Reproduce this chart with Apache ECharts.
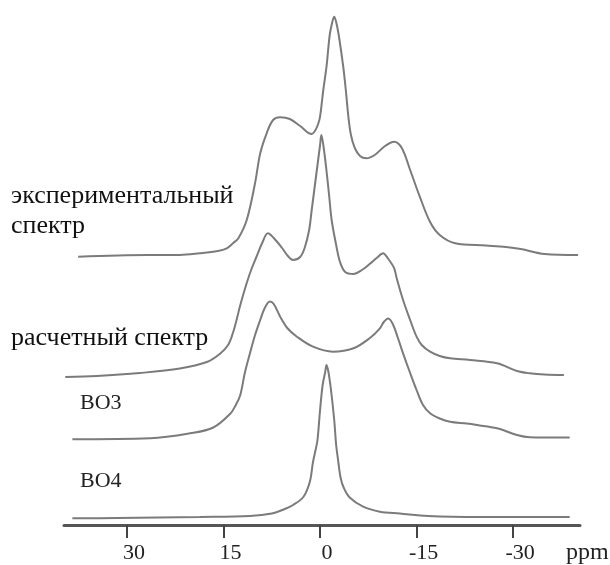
<!DOCTYPE html>
<html>
<head>
<meta charset="utf-8">
<script src="https://cdn.jsdelivr.net/npm/echarts@6/dist/echarts.min.js"></script>
<style>
html,body{margin:0;padding:0;background:#fff;}
#chart{width:610px;height:565px;}
</style>
</head>
<body>
<div id="chart"></div>
<script>
// x: chemical shift, ppm ; y: stacked intensity (arbitrary units, offsets included)
var tickValues = [30, 15, 0, -15, -30];
var axisName = 'ppm';
var labelExp = ['экспериментальный', 'спектр'];
var labelCalc = 'расчетный спектр';
var labelBO3 = 'BO3';
var labelBO4 = 'BO4';

var expPpm = [37.6, 26.8, 21.8, 18.7, 15.9, 14.5, 13.5, 12.7, 11.4, 10.1, 9.3, 8.3, 7.3, 6.2, 4.7, 3.1, 1.3, 0.8, 0.3, 0.0, -0.5, -1.0, -1.5, -1.9, -2.2, -2.5, -2.9, -3.6, -4.0, -4.4, -4.8, -5.4, -6.2, -7.2, -8.5, -10.1, -11.5, -12.7, -14.0, -15.5, -17.1, -18.6, -21.0, -25.8, -28.9, -31.2, -34.9, -40.1];
var expInt = [268.3, 270, 270, 271.7, 274, 276.7, 282, 286.7, 305, 342, 371.7, 391.7, 405, 407.7, 406, 399, 391, 394, 401, 408.3, 435, 458.3, 490, 503, 508.3, 503, 490, 458.3, 435, 408.3, 390, 377, 369, 366.7, 370, 379, 383.3, 377, 355, 328.3, 303, 290, 281.7, 279.5, 278, 276, 271, 270];

var calcPpm = [39.6, 34.7, 28.0, 21.8, 17.6, 15.6, 14.3, 13.5, 12.9, 12.4, 11.4, 10.6, 9.9, 9.0, 8.1, 7.2, 5.9, 5.0, 4.2, 3.1, 2.4, 1.7, 1.3, 0.8, 0.3, 0.0, -0.2, -0.5, -0.9, -1.4, -1.8, -2.5, -3.1, -3.9, -5.2, -6.5, -7.7, -8.8, -9.8, -10.5, -11.5, -11.9, -12.9, -14.0, -15.0, -15.8, -17.1, -18.6, -20.2, -23.3, -27.5, -30.6, -32.6, -34.9, -37.9];
var calcInt = [148, 149, 152, 156.5, 163, 171, 180, 193, 207, 220, 242, 257, 268, 282, 291.7, 287, 277, 269, 265, 268, 277, 295, 315, 340, 365, 380, 390, 380, 360, 330, 305, 280, 263, 253, 251, 255, 261, 267, 271.7, 267, 257, 247, 225, 205, 188.3, 180, 173.3, 169, 166.7, 165, 161.7, 154, 151.7, 150.5, 150];

var bo3Ppm = [38.5, 26.4, 20.2, 16.6, 14.0, 13.1, 12.4, 11.7, 10.9, 10.1, 9.3, 8.6, 7.8, 7.2, 6.2, 5.1, 3.6, 1.1, -2.0, -5.2, -7.7, -9.3, -9.9, -10.6, -11.3, -12.1, -12.9, -14.0, -15.0, -16.0, -17.1, -18.6, -20.2, -22.8, -24.4, -27.5, -30.6, -32.6, -34.9, -38.8];
var bo3Int = [85.7, 86.7, 91.7, 97.5, 111, 120, 130, 152, 171.7, 190, 205, 217, 223.5, 221, 208.3, 197, 188.3, 178.3, 173.3, 176.7, 186.7, 196.7, 203, 206.5, 201, 187, 171.7, 152, 135, 120, 111.7, 106.5, 103.3, 101.5, 100, 96.7, 90, 87.7, 87.5, 87.5];

var bo4Ppm = [38.5, 31.6, 18.7, 10.9, 7.5, 5.5, 4.2, 2.6, 1.6, 1.1, 0.7, 0.4, 0.0, -0.4, -0.8, -1.0, -1.3, -1.7, -2.2, -2.5, -2.8, -3.2, -3.7, -4.6, -6.7, -9.3, -12.4, -16.8, -24.8, -38.8];
var bo4Int = [6.7, 7, 8, 9, 11.5, 16, 20, 28, 43, 63, 75, 85, 115, 140, 153, 160, 153, 135, 105, 80, 65, 47, 37, 27.5, 18.3, 13.3, 11.5, 9, 8, 8];

function pairs(xs, ys) {
  var out = [];
  for (var i = 0; i < xs.length; i++) out.push([xs[i], ys[i]]);
  return out;
}

var traceColor = '#7b7b7b';
var serif = '"Liberation Serif", "Times New Roman", serif';

function trace(name, xs, ys) {
  return {
    name: name, type: 'line', data: pairs(xs, ys),
    showSymbol: false, smooth: 0.35, silent: true,
    lineStyle: { color: traceColor, width: 2 }
  };
}

var chart = echarts.init(document.getElementById('chart'), null, { renderer: 'canvas' });
chart.setOption({
  animation: false,
  backgroundColor: '#ffffff',
  grid: { left: 64, right: 30, top: 5, bottom: 40 },
  xAxis: {
    type: 'value', inverse: true, min: -40.4, max: 39.8,
    splitLine: { show: false },
    axisLine: { lineStyle: { color: '#555', width: 3 } },
    axisTick: { show: true, length: 13, lineStyle: { color: '#444', width: 2 }, customValues: tickValues },
    axisLabel: { customValues: tickValues, fontFamily: serif, fontSize: 22, color: '#222', margin: 17, padding: [0, 0, 0, 14] }
  },
  yAxis: { type: 'value', min: 0, max: 520, show: false, splitLine: { show: false } },
  series: [
    trace('exp', expPpm, expInt),
    trace('calc', calcPpm, calcInt),
    trace('BO3', bo3Ppm, bo3Int),
    trace('BO4', bo4Ppm, bo4Int)
  ],
  graphic: [
    { type: 'text', left: 11, top: 183, style: { text: labelExp[0], font: '26px ' + serif, fill: '#111' } },
    { type: 'text', left: 11, top: 213, style: { text: labelExp[1], font: '26px ' + serif, fill: '#111' } },
    { type: 'text', left: 11, top: 325, style: { text: labelCalc, font: '26px ' + serif, fill: '#111' } },
    { type: 'text', left: 80, top: 392, style: { text: labelBO3, font: '22px ' + serif, fill: '#222' } },
    { type: 'text', left: 80, top: 470, style: { text: labelBO4, font: '22px ' + serif, fill: '#222' } },
    { type: 'text', left: 566, top: 541, style: { text: axisName, font: '24px ' + serif, fill: '#222' } }
  ]
});
</script>
</body>
</html>
